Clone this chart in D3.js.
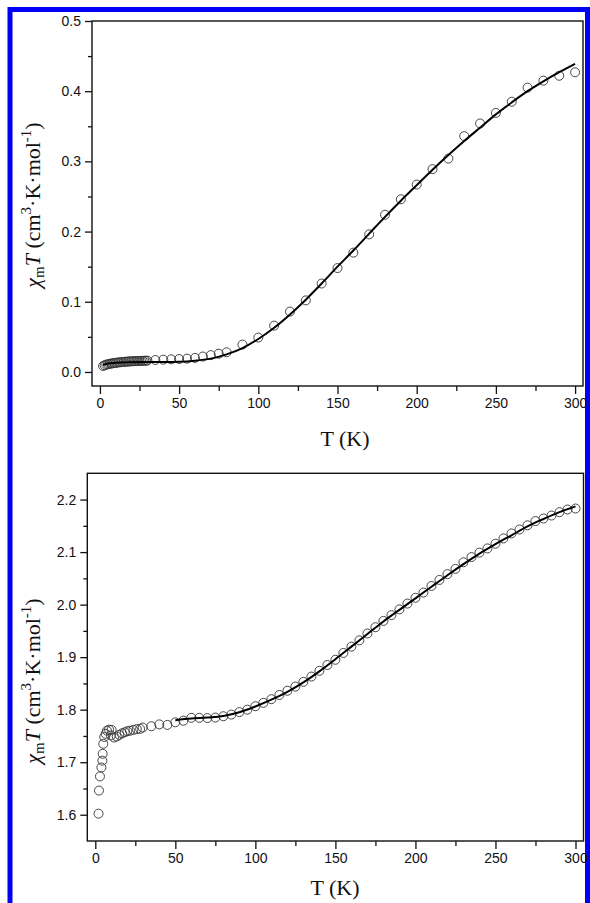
<!DOCTYPE html>
<html>
<head>
<meta charset="utf-8">
<script src="https://cdn.jsdelivr.net/npm/d3@7"></script>
<style>
  body { margin: 0; background: #fff; }
  svg { display: block; }
  .tick text { font-family: "Liberation Sans", Arial, sans-serif; font-size: 14px; fill: #111; }
  .tick line { stroke: #111; stroke-width: 1.3; }
  .title { font-family: "Liberation Serif", "Times New Roman", serif; font-size: 22px; fill: #111; }
</style>
</head>
<body>
<svg id="fig" width="590" height="903"></svg>
<script>
// top panel: measured points
const topT = [2,3,4,5,6,7,8,9,10,11,12,13,14,15,16,17,18,19,20,21,22,23,24,25,26,27,28,29,30,
  35,40,45,50,55,60,65,70,75,80,90,100,110,120,130,140,150,160,170,180,190,200,210,220,230,240,250,260,270,280,290,300];
const topV = [0.0085,0.0095,0.0105,0.011,0.0115,0.012,0.0123,0.0127,0.013,0.0133,0.0136,0.0139,0.0141,0.0143,0.0145,0.0147,0.0149,0.015,0.0152,0.0153,0.0154,0.0155,0.0156,0.0157,0.0158,0.0159,0.016,0.016,0.0162,
  0.017,0.0175,0.018,0.0185,0.019,0.020,0.022,0.024,0.026,0.028,0.039,0.049,0.066,0.086,0.102,0.126,0.148,0.170,0.196,0.224,0.246,0.267,0.289,0.304,0.336,0.354,0.369,0.385,0.405,0.415,0.422,0.427];
// top panel: fit curve
const topFitT = [2,5,10,20,30,40,50,60,70,80,90,100,110,120,130,140,150,160,170,180,190,200,210,220,230,240,250,260,270,280,290,300];
const topFitV = [0.010,0.012,0.013,0.0138,0.0141,0.0143,0.0146,0.016,0.019,0.025,0.034,0.047,0.063,0.082,0.103,0.126,0.150,0.173,0.197,0.221,0.244,0.266,0.288,0.309,0.329,0.348,0.367,0.384,0.400,0.414,0.427,0.439];

// bottom panel: measured points
const botT = [2,2.3,2.9,3.8,4.4,4.6,5,5.6,6.5,7.3,8.6,10.2,9.8,11.7,13.4,15,16.7,18.4,20,21.7,23.8,25.9,28,29.6,
  35,40,45,50,55,60,65,70,75,80,85,90,95,100,105,110,115,120,125,130,135,140,145,150,155,160,165,170,175,180,
  185,190,195,200,205,210,215,220,225,230,235,240,245,250,255,260,265,270,275,280,285,290,295,300];
const botV = [1.602,1.646,1.673,1.690,1.703,1.716,1.735,1.748,1.754,1.760,1.762,1.7615,1.751,1.747,1.749,1.752,1.755,1.757,1.759,1.760,1.7615,1.763,1.7635,1.766,
  1.7685,1.772,1.771,1.776,1.779,1.7845,1.7845,1.784,1.785,1.7875,1.7907,1.7954,1.800,1.8066,1.813,1.820,1.828,1.836,1.844,1.853,1.863,1.874,1.885,1.895,1.908,1.920,1.932,1.945,1.957,1.969,
  1.980,1.991,2.002,2.013,2.023,2.0355,2.047,2.058,2.068,2.0806,2.0905,2.099,2.107,2.116,2.126,2.1355,2.143,2.151,2.159,2.164,2.1696,2.176,2.181,2.183];
// bottom panel: fit curve
const botFitT = [50,60,70,80,90,100,110,120,130,140,150,160,170,180,190,200,210,220,230,240,250,260,270,280,290,300];
const botFitV = [1.780,1.783,1.785,1.788,1.795,1.806,1.819,1.834,1.852,1.873,1.896,1.920,1.944,1.968,1.990,2.012,2.034,2.056,2.077,2.097,2.115,2.132,2.149,2.163,2.176,2.187];

const xTicks = [0,50,100,150,200,250,300];
const xMinor = [25,75,125,175,225,275];
const topTicks = [0.0,0.1,0.2,0.3,0.4,0.5];
const topMinor = [0.05,0.15,0.25,0.35,0.45];
const botTicks = [1.6,1.7,1.8,1.9,2.0,2.1,2.2];
const botMinor = [1.65,1.75,1.85,1.95,2.05,2.15];

const svg = d3.select("#fig");

// blue page frame
svg.append("rect")
  .attr("x", 10).attr("y", 9.5)
  .attr("width", 577.5).attr("height", 1000)
  .attr("fill", "none").attr("stroke", "#0000f5").attr("stroke-width", 5);

function drawPanel(p){
  const x = d3.scaleLinear().domain([-5,305]).range([p.left,p.right]);
  const y = d3.scaleLinear().domain(p.yDom).range([p.bottom,p.top]);
  const g = svg.append("g");

  // minor ticks first (no labels)
  g.append("g").attr("transform",`translate(0,${p.bottom})`)
    .call(d3.axisBottom(x).tickValues(xMinor).tickSize(5).tickFormat(""))
    .call(a => a.select(".domain").remove());
  g.append("g").attr("transform",`translate(${p.left},0)`)
    .call(d3.axisLeft(y).tickValues(p.yMinor).tickSize(4).tickFormat(""))
    .call(a => a.select(".domain").remove());

  g.append("g").attr("transform",`translate(0,${p.bottom})`)
    .call(d3.axisBottom(x).tickValues(xTicks).tickSize(8).tickPadding(4).tickFormat(d3.format("d")))
    .call(a => a.select(".domain").remove());
  g.append("g").attr("transform",`translate(${p.left},0)`)
    .call(d3.axisLeft(y).tickValues(p.yTicks).tickSize(7).tickPadding(4).tickFormat(d3.format(".1f")))
    .call(a => a.select(".domain").remove());

  // frame
  g.append("rect")
    .attr("x",p.left).attr("y",p.top)
    .attr("width",p.right-p.left).attr("height",p.bottom-p.top)
    .attr("fill","none").attr("stroke","#111").attr("stroke-width",1.4);

  // data circles
  g.append("g").selectAll("circle")
    .data(p.T.map((t,i) => [t,p.V[i]]))
    .join("circle")
    .attr("cx", d => x(d[0])).attr("cy", d => y(d[1]))
    .attr("r", 4.5)
    .attr("fill","none").attr("stroke","#333").attr("stroke-width",0.9);

  // fit curve
  const line = d3.line().x(d => x(d[0])).y(d => y(d[1])).curve(d3.curveMonotoneX);
  g.append("path")
    .datum(p.fitT.map((t,i) => [t,p.fitV[i]]))
    .attr("d", line)
    .attr("fill","none").attr("stroke","#000").attr("stroke-width",2);

  // x title
  g.append("text").attr("class","title")
    .attr("x",p.xTitle[0]).attr("y",p.xTitle[1])
    .attr("text-anchor","middle").text("T (K)");

  // y title
  const yt = g.append("text").attr("class","title")
    .attr("transform",`translate(${p.yTitle[0]},${p.yTitle[1]}) rotate(-90)`)
    .attr("text-anchor","middle");
  yt.append("tspan").attr("font-style","italic").text("χ");
  yt.append("tspan").attr("font-size","15px").attr("dy",4).text("m");
  yt.append("tspan").attr("font-style","italic").attr("dy",-4).text("T");
  yt.append("tspan").text(" (cm");
  yt.append("tspan").attr("font-size","15px").attr("dy",-9).text("3");
  yt.append("tspan").attr("dy",9).text("·K·mol");
  yt.append("tspan").attr("font-size","15px").attr("dy",-9).text("-1");
  yt.append("tspan").attr("dy",9).text(")");
}

drawPanel({left:92, right:583, top:21, bottom:386, yDom:[-0.02,0.5],
  yTicks:topTicks, yMinor:topMinor, T:topT, V:topV, fitT:topFitT, fitV:topFitV,
  xTitle:[345,446], yTitle:[40,205]});

drawPanel({left:87.3, right:583.5, top:473.3, bottom:841, yDom:[1.55,2.25],
  yTicks:botTicks, yMinor:botMinor, T:botT, V:botV, fitT:botFitT, fitV:botFitV,
  xTitle:[335,895], yTitle:[40,681]});
</script>
</body>
</html>
